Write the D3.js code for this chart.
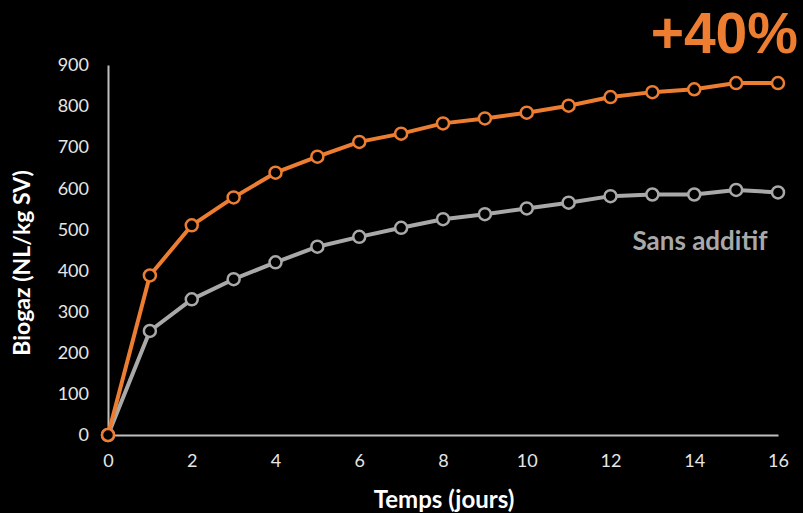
<!DOCTYPE html>
<html>
<head>
<meta charset="utf-8">
<script src="https://cdn.jsdelivr.net/npm/d3@7"></script>
<style>
  body { margin: 0; background: #000; }
  svg { display: block; }
</style>
</head>
<body>
<div id="chart"></div>
<script>
// data
var days = [0, 1, 2, 3, 4, 5, 6, 7, 8, 9, 10, 11, 12, 13, 14, 15, 16];
var avecAdditif = [0, 388, 510, 578, 638, 677, 713, 733, 758, 770, 784, 801, 822, 834, 841, 856, 856];
var sansAdditif = [0, 253, 330, 379, 420, 458, 482, 504, 525, 537, 551, 565, 581, 585, 585, 596, 590];
var xTicks = [0, 2, 4, 6, 8, 10, 12, 14, 16];
var yTicks = [0, 100, 200, 300, 400, 500, 600, 700, 800, 900];

var W = 803, H = 513;
var orange = "#ed7d31", grey = "#a9a9a9";

var svg = d3.select("#chart").append("svg")
  .attr("width", W).attr("height", H)
  .style("background", "#000");

var x = d3.scaleLinear().domain([0, 16]).range([108, 778]);
var y = d3.scaleLinear().domain([0, 900]).range([435, 65]);

// axes
var xAxis = svg.append("g")
  .attr("transform", "translate(0," + y(0) + ")")
  .call(d3.axisBottom(x).tickValues(xTicks).tickSize(0).tickPadding(19));
var yAxis = svg.append("g")
  .attr("transform", "translate(" + x(0) + ",0)")
  .call(d3.axisLeft(y).tickValues(yTicks).tickSize(0).tickPadding(19));

[xAxis, yAxis].forEach(function(a){
  a.select(".domain").attr("stroke", "#bfbfbf").attr("stroke-width", 2);
  a.selectAll("text")
    .style("font-family", "Lato")
    .style("font-size", "18px")
    .attr("fill", "#e6e6e6");
});

var line = d3.line()
  .x(function(d, i){ return x(days[i]); })
  .y(function(d){ return y(d); });

function drawSerie(vals, color){
  svg.append("path")
    .datum(vals)
    .attr("d", line)
    .attr("fill", "none")
    .attr("stroke", color)
    .attr("stroke-width", 4)
    .attr("stroke-linejoin", "round");
  svg.selectAll(null)
    .data(vals)
    .enter()
    .append("circle")
    .attr("cx", function(d, i){ return x(days[i]); })
    .attr("cy", function(d){ return y(d); })
    .attr("r", 6)
    .attr("fill", "#000")
    .attr("stroke", color)
    .attr("stroke-width", 2.5);
}
drawSerie(sansAdditif, grey);
drawSerie(avecAdditif, orange);

// labels
svg.append("text")
  .attr("x", 798).attr("y", 53)
  .attr("text-anchor", "end")
  .style("font-family", "Liberation Sans")
  .style("font-weight", "bold")
  .style("font-size", "57px")
  .attr("fill", orange)
  .text("+40%");

svg.append("text")
  .attr("x", 700).attr("y", 250)
  .attr("text-anchor", "middle")
  .style("font-family", "Lato")
  .style("font-weight", "bold")
  .style("font-size", "26px")
  .attr("fill", grey)
  .text("Sans additif");

svg.append("text")
  .attr("x", 444).attr("y", 508)
  .attr("text-anchor", "middle")
  .style("font-family", "Lato")
  .style("font-weight", "bold")
  .style("font-size", "24px")
  .attr("fill", "#fff")
  .text("Temps (jours)");

svg.append("text")
  .attr("transform", "translate(30,263) rotate(-90)")
  .attr("text-anchor", "middle")
  .style("font-family", "Lato")
  .style("font-weight", "bold")
  .style("font-size", "23px")
  .attr("fill", "#fff")
  .text("Biogaz (NL/kg SV)");
</script>
</body>
</html>
